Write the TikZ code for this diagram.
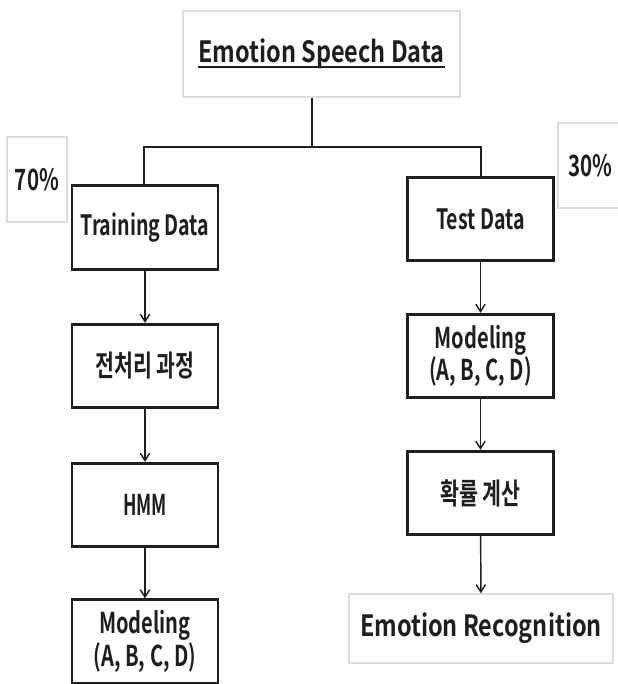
\documentclass[tikz,border=0pt]{standalone}
\usepackage{fontspec}
\usetikzlibrary{arrows.meta}
\newfontfamily\krwide{Noto Sans CJK KR Bold}[FakeStretch=0.8]
\newfontfamily\krnarrow{Noto Sans CJK KR Bold}[FakeStretch=0.7]
\newfontfamily\krtight{Noto Sans CJK KR Bold}[FakeStretch=0.62]
\definecolor{txt}{HTML}{1E1E1E}
\definecolor{lightframe}{HTML}{DCDCDC}
\newsavebox\myulbox
\newcommand\myuline[1]{\sbox\myulbox{#1}\rlap{\rule[-4.2pt]{\wd\myulbox}{1.6pt}}\usebox\myulbox}
\begin{document}
\begin{tikzpicture}[x=0.75pt,y=-0.75pt,
  every node/.style={text=txt, inner sep=0pt},
  blk/.style={draw=txt, line width=2.2pt, minimum width=109.5pt, minimum height=62.5pt, align=center},
  gbox/.style={draw=lightframe, line width=1.1pt, align=center},
  bigtxt/.style={font=\krwide\fontsize{22}{26}\selectfont},
  midtxt/.style={font=\krnarrow\fontsize{21}{25}\selectfont},
  kortxt/.style={font=\krnarrow\fontsize{22}{25}\selectfont},
  modtxt/.style={font=\krnarrow\fontsize{21.5}{24.5}\selectfont},
  hmmtxt/.style={font=\krtight\fontsize{21.5}{24}\selectfont},
  pcttxt/.style={font=\krnarrow\fontsize{22}{25}\selectfont},
  conn/.style={draw=txt, line width=1.1pt},
  arr/.style={conn, -{Straight Barb[length=5.5pt,width=7pt,line width=1.1pt]}}
]
\useasboundingbox (0,0) rectangle (617,684);

% top source
\node[gbox, bigtxt, minimum width=207.75pt, minimum height=64.5pt] (src) at (321.5,54)
  {\myuline{Emotion Speech Data}};

% percentages
\node[gbox, pcttxt, minimum width=45pt, minimum height=63.75pt] (p70) at (37,179.5) {70\%};
\node[gbox, pcttxt, minimum width=48pt, minimum height=63.75pt] (p30) at (590,165.5) {30\%};

% left column
\node[blk, midtxt] (train) at (145,227.5) {Training Data};
\node[blk, kortxt] (pre)   at (145,366)   {전처리 과정};
\node[blk, hmmtxt] (hmm)   at (145,505)   {HMM};
\node[blk, modtxt] (modL)  at (145,641.5) {Modeling\\(A, B, C, D)};

% right column
\node[blk, midtxt] (test)  at (480.5,219) {Test Data};
\node[blk, modtxt] (modR)  at (480.5,356) {Modeling\\(A, B, C, D)};
\node[blk, kortxt] (prob)  at (480.5,493) {확률 계산};
\node[gbox, bigtxt, minimum width=198pt, minimum height=51.75pt] (rec) at (481,628.5) {Emotion Recognition};

% split
\coordinate (j)  at (312,147);
\coordinate (jl) at (144,147);
\coordinate (jr) at (481,147);
\draw[conn] (src.south -| j) -- (j);
\draw[conn, line cap=rect] (train.north -| jl) -- (jl) -- (jr) -- (test.north -| jr);

% arrows
\draw[arr] (train) -- (pre);
\draw[arr] (pre) -- (hmm);
\draw[arr] (hmm) -- (modL);
\draw[arr] (test) -- (modR);
\draw[arr] (modR) -- (prob);
\draw[arr] (prob) -- (rec);
\end{tikzpicture}
\end{document}
